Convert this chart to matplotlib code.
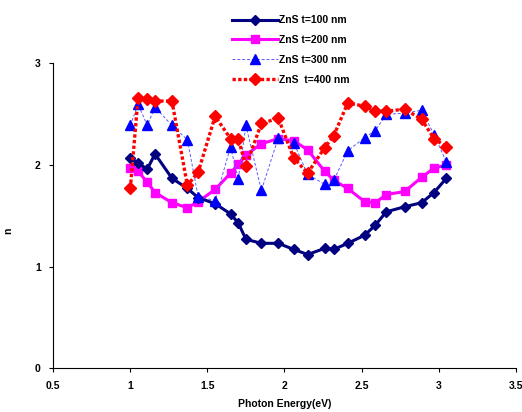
import matplotlib
matplotlib.use("Agg")
import matplotlib.pyplot as plt
from matplotlib.legend_handler import HandlerLine2D

# --- Data ---
energy = [1.00, 1.05, 1.11, 1.16, 1.27, 1.37, 1.44, 1.55, 1.65, 1.70, 1.75, 1.85, 1.96,
          2.06, 2.15, 2.26, 2.32, 2.41, 2.52, 2.59, 2.66, 2.78, 2.89, 2.97, 3.05]

n_100 = [2.07, 2.02, 1.96, 2.11, 1.87, 1.77, 1.68, 1.62, 1.52, 1.43, 1.27, 1.23, 1.23,
         1.17, 1.12, 1.18, 1.17, 1.23, 1.31, 1.41, 1.54, 1.59, 1.63, 1.73, 1.87]
n_200 = [1.97, 1.94, 1.83, 1.73, 1.63, 1.58, 1.64, 1.76, 1.92, 2.01, 2.10, 2.21, 2.26,
         2.24, 2.15, 1.94, 1.85, 1.77, 1.64, 1.63, 1.71, 1.74, 1.88, 1.97, 2.00]
n_300 = [2.39, 2.60, 2.39, 2.57, 2.39, 2.25, 1.69, 1.65, 2.18, 1.86, 2.39, 1.75, 2.27,
         2.22, 1.91, 1.81, 1.85, 2.14, 2.27, 2.34, 2.50, 2.51, 2.54, 2.30, 2.03]
n_400 = [1.77, 2.66, 2.65, 2.63, 2.63, 1.80, 1.93, 2.48, 2.26, 2.26, 1.99, 2.41, 2.46,
         2.07, 1.92, 2.17, 2.29, 2.61, 2.58, 2.53, 2.53, 2.55, 2.45, 2.26, 2.18]

labels = ["ZnS t=100 nm", "ZnS t=200 nm", "ZnS t=300 nm", "ZnS  t=400 nm"]
xticks = [0.5, 1, 1.5, 2, 2.5, 3, 3.5]
yticks = [0, 1, 2, 3]

plt.rcParams["font.family"] = ["Liberation Sans", "DejaVu Sans"]
plt.rcParams["font.weight"] = "bold"


class LeftMarker(HandlerLine2D):
    # Excel-style legend: marker sits near the left end of the sample line
    def get_xdata(self, legend, xdescent, ydescent, width, height, fontsize):
        xdata = [-xdescent, -xdescent + width]
        return xdata, [-xdescent + 0.2 * width]


fig = plt.figure(figsize=(5.22, 4.12), dpi=100)
ax = fig.add_axes([0.102, 0.106, 0.886, 0.740])

l1, = ax.plot(energy, n_100, color="#000080", lw=2.2, marker="D", ms=5.5, zorder=3)
l2, = ax.plot(energy, n_200, color="#ff00ff", lw=2.2, marker="s", ms=5.5, zorder=2)
l3, = ax.plot(energy, n_300, color="#5a5aff", lw=0.7, ls=(0, (3, 2)), marker="^", ms=7,
              mfc="#0000ff", mec="#0000ff", zorder=4)
l4, = ax.plot(energy, n_400, color="#ff0000", lw=2.4, ls=(0, (1, 0.7)), marker="D", ms=6,
              zorder=5)

ax.set_xlim(0.5, 3.5)
ax.set_ylim(0, 3)
ax.set_xticks(xticks)
ax.set_xticklabels(["0.5", "1", "1.5", "2", "2.5", "3", "3.5"])
ax.set_yticks(yticks)
ax.tick_params(labelsize=7.5, length=3, width=0.8, pad=6)
for s in ["top", "right"]:
    ax.spines[s].set_visible(False)
ax.set_xlabel("Photon Energy(eV)", fontsize=7.5, fontweight="bold", labelpad=6)
ax.set_ylabel("n", fontsize=7.5, fontweight="bold", labelpad=16, y=0.45)

fig.legend([l1, l2, l3, l4], labels, loc="upper left",
           bbox_to_anchor=(227 / 522, 1 - 10 / 412), bbox_transform=fig.transFigure,
           frameon=False, borderpad=0, handlelength=4.4, handletextpad=0.05,
           labelspacing=0.95, prop={"size": 7.5, "weight": "bold"},
           handler_map={l: LeftMarker() for l in [l1, l2, l3, l4]})

plt.savefig("out.png", dpi=100)
